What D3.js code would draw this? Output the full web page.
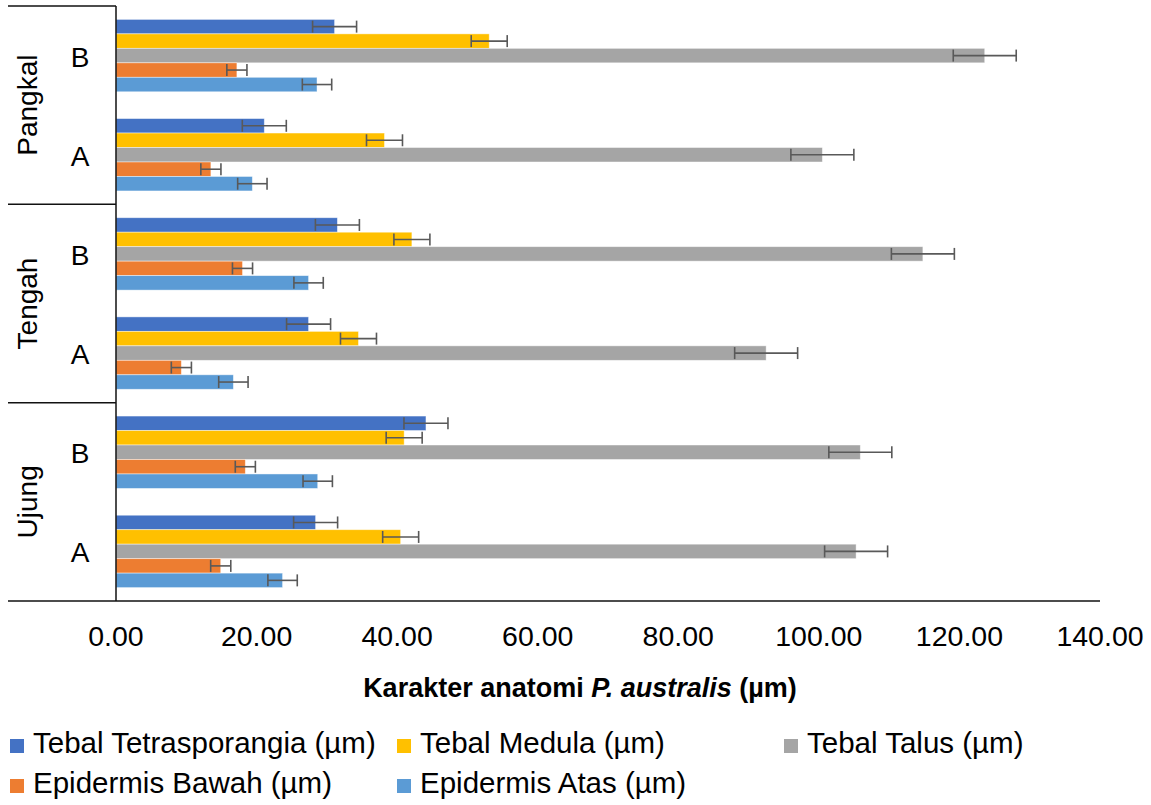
<!DOCTYPE html>
<html>
<head>
<meta charset="utf-8">
<script src="https://cdn.jsdelivr.net/npm/d3@7"></script>
<style>
  html, body { margin: 0; padding: 0; background: #fff; }
  svg { display: block; font-family: "Liberation Sans", Arial, sans-serif; }
</style>
</head>
<body>
<div id="chart"></div>
<script>
// categories, bottom to top as in the chart
const categories = ["Ujung A", "Ujung B", "Tengah A", "Tengah B", "Pangkal A", "Pangkal B"];
const locations = ["Ujung", "Tengah", "Pangkal"];
const sites = ["A", "B"];

const seriesNames = [
  "Tebal Tetrasporangia (µm)",
  "Tebal Medula (µm)",
  "Tebal Talus (µm)",
  "Epidermis Bawah (µm)",
  "Epidermis Atas (µm)"
];
const seriesColors = ["#4472C4", "#FFC000", "#A5A5A5", "#ED7D31", "#5B9BD5"];

const tetrasporangia = [28.4, 44.1, 27.4, 31.5, 21.1, 31.1];
const medula = [40.5, 41.0, 34.5, 42.1, 38.2, 53.1];
const talus = [105.3, 105.9, 92.5, 114.8, 100.5, 123.6];
const epidermisBawah = [14.9, 18.4, 9.3, 18.0, 13.5, 17.2];
const epidermisAtas = [23.7, 28.7, 16.7, 27.4, 19.4, 28.6];

const errTetrasporangia = [3.13, 3.13, 3.13, 3.13, 3.13, 3.13];
const errMedula = [2.56, 2.56, 2.56, 2.56, 2.56, 2.56];
const errTalus = [4.48, 4.48, 4.48, 4.48, 4.48, 4.48];
const errBawah = [1.43, 1.43, 1.43, 1.43, 1.43, 1.43];
const errAtas = [2.09, 2.09, 2.09, 2.09, 2.09, 2.09];

const xTicks = [0, 20, 40, 60, 80, 100, 120, 140];

const values = [tetrasporangia, medula, talus, epidermisBawah, epidermisAtas];
const errors = [errTetrasporangia, errMedula, errTalus, errBawah, errAtas];

const width = 1151, height = 805;
const plot = { left: 116, right: 1100, top: 6, bottom: 601 };

const svg = d3.select("#chart").append("svg")
  .attr("width", width)
  .attr("height", height);

const x = d3.scaleLinear().domain([0, 140]).range([plot.left, plot.right]);

// top to bottom: Pangkal B ... Ujung A
const y = d3.scaleBand()
  .domain(categories.slice().reverse())
  .range([plot.top, plot.bottom])
  .paddingInner(0.27)
  .paddingOuter(0.135);

const ySub = d3.scaleBand()
  .domain(d3.range(seriesNames.length))
  .range([0, y.bandwidth()]);

const rows = [];
categories.forEach((c, i) => {
  values.forEach((vals, s) => {
    rows.push({ cat: c, s: s, v: vals[i], e: errors[s][i] });
  });
});

// bars
svg.append("g").selectAll("rect")
  .data(rows)
  .join("rect")
  .attr("x", x(0))
  .attr("y", d => y(d.cat) + ySub(d.s))
  .attr("width", d => x(d.v) - x(0))
  .attr("height", ySub.bandwidth())
  .attr("fill", d => seriesColors[d.s])
  .attr("stroke", "rgba(255,255,255,0.55)")
  .attr("stroke-width", 0.8);

// error bars
const eb = svg.append("g")
  .attr("stroke", "#595959")
  .attr("stroke-width", 1.6)
  .selectAll("g")
  .data(rows)
  .join("g")
  .attr("transform", d => `translate(0,${y(d.cat) + ySub(d.s) + ySub.bandwidth() / 2})`);
eb.append("line")
  .attr("x1", d => x(d.v - d.e)).attr("x2", d => x(d.v + d.e));
eb.append("line")
  .attr("x1", d => x(d.v - d.e)).attr("x2", d => x(d.v - d.e))
  .attr("y1", -6).attr("y2", 6);
eb.append("line")
  .attr("x1", d => x(d.v + d.e)).attr("x2", d => x(d.v + d.e))
  .attr("y1", -6).attr("y2", 6);

// axis lines
const lines = svg.append("g").attr("stroke", "#111").attr("stroke-width", 1.5);
lines.append("line")
  .attr("x1", plot.left).attr("x2", plot.left)
  .attr("y1", plot.top).attr("y2", plot.bottom);
lines.append("line")
  .attr("x1", 8).attr("x2", plot.right)
  .attr("y1", plot.bottom).attr("y2", plot.bottom);

// group separators on the multi-level category axis
const step = y.step();
const groupEdges = [0, 2, 4].map(k => plot.top + k * step);
lines.selectAll(".sep")
  .data(groupEdges)
  .join("line")
  .attr("x1", 8).attr("x2", plot.left)
  .attr("y1", d => d).attr("y2", d => d);

// inner labels (A / B)
svg.append("g").selectAll("text")
  .data(categories)
  .join("text")
  .attr("x", 80)
  .attr("y", d => y(d) + y.bandwidth() / 2 + 11)
  .attr("text-anchor", "middle")
  .attr("font-size", 28)
  .attr("fill", "#000")
  .text(d => d.split(" ")[1]);

// outer labels
svg.append("g").selectAll("text")
  .data(locations)
  .join("text")
  .attr("transform", d => {
    const a = y(d + " A"), b = y(d + " B");
    const cy = (Math.min(a, b) + Math.max(a, b) + y.bandwidth()) / 2;
    return `translate(37,${cy}) rotate(-90)`;
  })
  .attr("text-anchor", "middle")
  .attr("font-size", 28)
  .attr("fill", "#000")
  .text(d => d);

// x tick labels
svg.append("g").selectAll("text")
  .data(xTicks)
  .join("text")
  .attr("x", d => x(d))
  .attr("y", 646)
  .attr("text-anchor", "middle")
  .attr("font-size", 28.5)
  .attr("fill", "#000")
  .text(d => d3.format(".2f")(d));

// axis title
const title = svg.append("text")
  .attr("x", 580)
  .attr("y", 697)
  .attr("text-anchor", "middle")
  .attr("font-size", 27)
  .attr("font-weight", "bold")
  .attr("fill", "#000");
title.append("tspan").text("Karakter anatomi ");
title.append("tspan").attr("font-style", "italic").text("P. australis");
title.append("tspan").text(" (µm)");

// legend
const legendPos = [
  { x: 10, y: 753 }, { x: 397, y: 753 }, { x: 784, y: 753 },
  { x: 10, y: 793 }, { x: 397, y: 793 }
];
const legend = svg.append("g").selectAll("g")
  .data(seriesNames)
  .join("g")
  .attr("transform", (d, i) => `translate(${legendPos[i].x},${legendPos[i].y})`);
legend.append("rect")
  .attr("x", 0).attr("y", -14)
  .attr("width", 14).attr("height", 14)
  .attr("fill", (d, i) => seriesColors[i]);
legend.append("text")
  .attr("x", 23)
  .attr("y", 0)
  .attr("font-size", 29.5)
  .attr("fill", "#000")
  .text(d => d);
</script>
</body>
</html>
